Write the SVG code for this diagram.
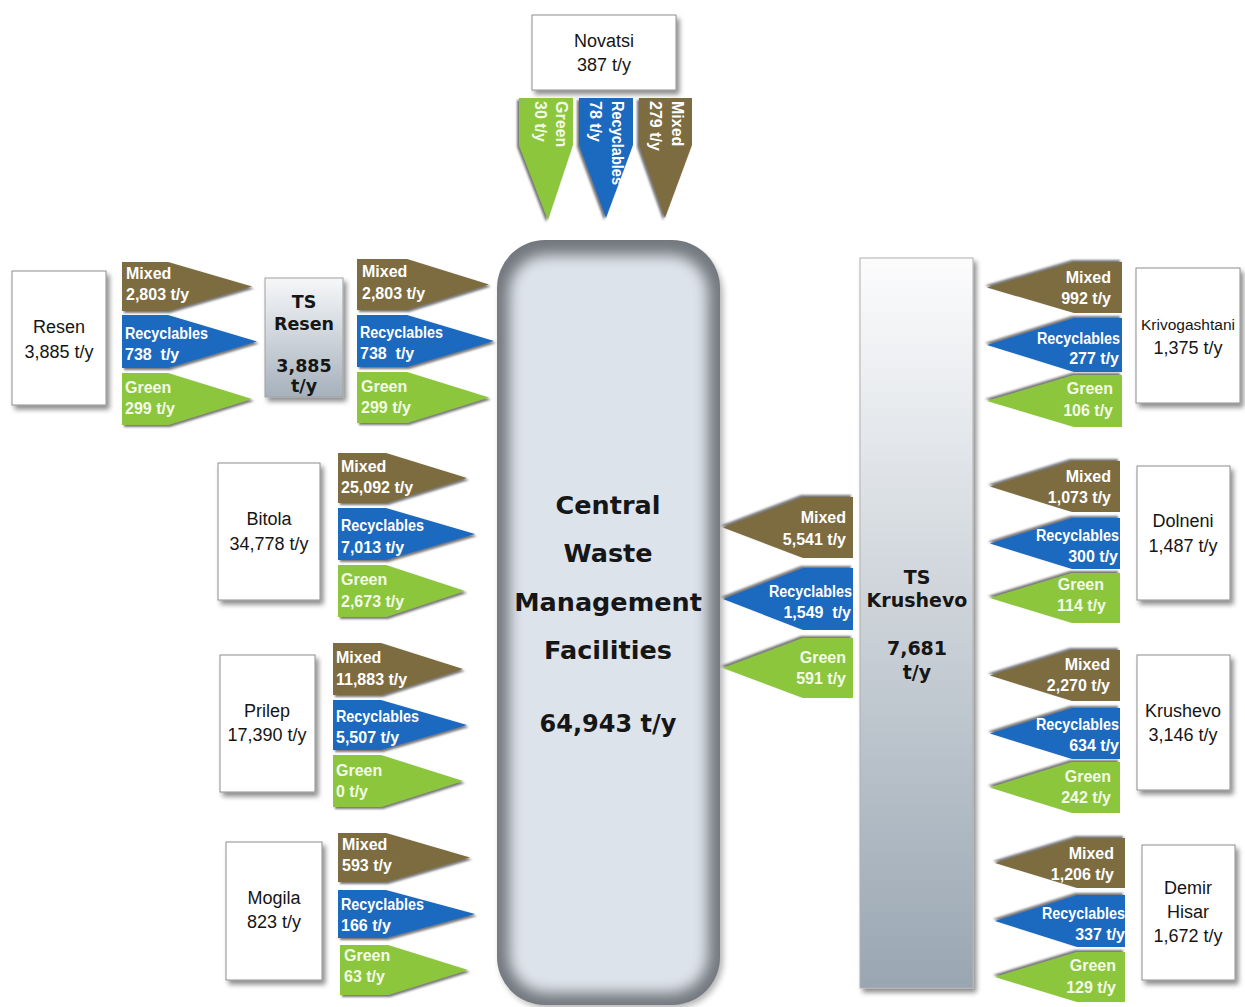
<svg xmlns="http://www.w3.org/2000/svg" width="1245" height="1007" viewBox="0 0 1245 1007">
  <defs>
    <style>
      .mx{fill:#7d6c41}
      .rc{fill:#1a69c0}
      .gr{fill:#8cc63e}
      .at{font-family:"Liberation Sans",Arial,sans-serif;font-weight:bold;font-size:16px;fill:#ffffff}
      .ag{fill:#f3fbe8}
      .end{text-anchor:end}
      .box{fill:#ffffff;stroke:#8e8e8e;stroke-width:1}
      .nt{font-family:"Liberation Sans",Arial,sans-serif;font-size:18px;fill:#151515;text-anchor:middle}
      .nt.sm{font-size:15.5px}
      .bt{font-family:"DejaVu Sans",Verdana,sans-serif;font-weight:bold;fill:#161616;text-anchor:middle}
    </style>
    <filter id="boxShadow" x="-20%" y="-20%" width="150%" height="150%">
      <feDropShadow dx="3" dy="4" stdDeviation="2.5" flood-color="#000" flood-opacity="0.45"/>
    </filter>
    <filter id="arrR" x="-10%" y="-20%" width="125%" height="150%">
      <feDropShadow dx="2" dy="2" stdDeviation="1.3" flood-color="#3a3a3a" flood-opacity="0.7"/>
    </filter>
    <filter id="arrL" x="-15%" y="-30%" width="125%" height="150%">
      <feDropShadow dx="-2" dy="-2" stdDeviation="1.3" flood-color="#3a3a3a" flood-opacity="0.7"/>
    </filter>
    <filter id="arrD" x="-30%" y="-10%" width="150%" height="125%">
      <feDropShadow dx="-2" dy="2" stdDeviation="1.3" flood-color="#3a3a3a" flood-opacity="0.7"/>
    </filter>
    <filter id="bevel" x="-20%" y="-20%" width="140%" height="140%">
      <feGaussianBlur stdDeviation="7"/>
    </filter>
    <filter id="ctrShadow" x="-20%" y="-10%" width="140%" height="120%">
      <feGaussianBlur stdDeviation="3"/>
    </filter>
    <clipPath id="ctrClip">
      <rect x="497" y="240" width="223" height="765" rx="48"/>
    </clipPath>
    <linearGradient id="tsGrad" x1="0" y1="0" x2="0" y2="1">
      <stop offset="0" stop-color="#fcfcfd"/>
      <stop offset="1" stop-color="#99a6b2"/>
    </linearGradient>
    <linearGradient id="tsResGrad" x1="0" y1="0" x2="0" y2="1">
      <stop offset="0" stop-color="#f6f7f9"/>
      <stop offset="1" stop-color="#a6b1bc"/>
    </linearGradient>
  </defs>

  <rect width="1245" height="1007" fill="#ffffff"/>

  <!-- central facility -->
  <g id="central">
    <rect x="500" y="246" width="223" height="762" rx="48" fill="#000" opacity="0.3" filter="url(#ctrShadow)"/>
    <g clip-path="url(#ctrClip)">
      <rect x="497" y="240" width="223" height="765" fill="#73787f"/>
      <rect x="509" y="255" width="199" height="738" rx="38" fill="#dde3ea" filter="url(#bevel)"/>
    </g>
    <text class="bt" x="608" y="514" font-size="25.5">Central</text>
    <text class="bt" x="608" y="562" font-size="25.5">Waste</text>
    <text class="bt" x="608" y="611" font-size="25.5">Management</text>
    <text class="bt" x="608" y="659" font-size="25.5">Facilities</text>
    <text class="bt" x="608" y="732" font-size="24">64,943 t/y</text>
  </g>

  <!-- transfer stations -->
  <g id="ts-resen">
    <rect x="265" y="278" width="78" height="119" fill="url(#tsResGrad)" stroke="#a0a0a0" filter="url(#boxShadow)"/>
    <text class="bt" x="304" y="308" font-size="17.5">TS</text>
    <text class="bt" x="304" y="330" font-size="17.5">Resen</text>
    <text class="bt" x="304" y="372" font-size="17.5">3,885</text>
    <text class="bt" x="304" y="392" font-size="17.5">t/y</text>
  </g>
  <g id="ts-krushevo">
    <rect x="860" y="258" width="113" height="730" fill="url(#tsGrad)" stroke="#b0b0b0" filter="url(#boxShadow)"/>
    <text class="bt" x="917" y="584" font-size="19">TS</text>
    <text class="bt" x="917" y="607" font-size="19">Krushevo</text>
    <text class="bt" x="917" y="655" font-size="19">7,681</text>
    <text class="bt" x="917" y="679" font-size="19">t/y</text>
  </g>

  <!-- municipalities -->
  <g id="novatsi">
    <rect class="box" x="532" y="15" width="144" height="75" filter="url(#boxShadow)"/>
    <text class="nt" x="604" y="47">Novatsi</text>
    <text class="nt" x="604" y="71">387 t/y</text>
  </g>
  <g id="resen">
    <rect class="box" x="12" y="271" width="94" height="134" filter="url(#boxShadow)"/>
    <text class="nt" x="59" y="333">Resen</text>
    <text class="nt" x="59" y="358">3,885 t/y</text>
  </g>
  <g id="bitola">
    <rect class="box" x="218" y="463" width="102" height="137" filter="url(#boxShadow)"/>
    <text class="nt" x="269" y="525">Bitola</text>
    <text class="nt" x="269" y="550">34,778 t/y</text>
  </g>
  <g id="prilep">
    <rect class="box" x="220" y="655" width="95" height="137" filter="url(#boxShadow)"/>
    <text class="nt" x="267" y="717">Prilep</text>
    <text class="nt" x="267" y="741">17,390 t/y</text>
  </g>
  <g id="mogila">
    <rect class="box" x="226" y="842" width="96" height="138" filter="url(#boxShadow)"/>
    <text class="nt" x="274" y="904">Mogila</text>
    <text class="nt" x="274" y="928">823 t/y</text>
  </g>
  <g id="krivogashtani">
    <rect class="box" x="1136" y="268" width="104" height="135" filter="url(#boxShadow)"/>
    <text class="nt sm" x="1188" y="330">Krivogashtani</text>
    <text class="nt" x="1188" y="354">1,375 t/y</text>
  </g>
  <g id="dolneni">
    <rect class="box" x="1137" y="466" width="93" height="134" filter="url(#boxShadow)"/>
    <text class="nt" x="1183" y="527">Dolneni</text>
    <text class="nt" x="1183" y="552">1,487 t/y</text>
  </g>
  <g id="krushevo">
    <rect class="box" x="1137" y="655" width="93" height="135" filter="url(#boxShadow)"/>
    <text class="nt" x="1183" y="717">Krushevo</text>
    <text class="nt" x="1183" y="741">3,146 t/y</text>
  </g>
  <g id="demir-hisar">
    <rect class="box" x="1142" y="845" width="93" height="135" filter="url(#boxShadow)"/>
    <text class="nt" x="1188" y="894">Demir</text>
    <text class="nt" x="1188" y="918">Hisar</text>
    <text class="nt" x="1188" y="942">1,672 t/y</text>
  </g>

  <!-- flow arrows -->
  <g id="connectors">
    <!-- Novatsi -> central (pointing down) -->
    <g filter="url(#arrD)">
      <polygon class="gr" points="519,98 573,98 573,145 548,220 519,145"/>
      <polygon class="rc" points="579,98 633,98 633,145 606,218 579,145"/>
      <polygon class="mx" points="639,98 692,98 692,145 665,218 639,145"/>
    </g>
    <text class="at ag" transform="translate(556,101) rotate(90)">Green</text>
    <text class="at ag" transform="translate(535,101) rotate(90)">30 t/y</text>
    <text class="at" transform="translate(612,101) rotate(90)" textLength="84" lengthAdjust="spacingAndGlyphs">Recyclables</text>
    <text class="at" transform="translate(590,101) rotate(90)">78 t/y</text>
    <text class="at" transform="translate(672,101) rotate(90)">Mixed</text>
    <text class="at" transform="translate(650,101) rotate(90)">279 t/y</text>

    <!-- Resen -> TS Resen -->
    <g filter="url(#arrR)">
      <polygon class="mx" points="122,262 168,262 252,286.5 168,311 122,311"/>
      <polygon class="rc" points="122,315 168,315 257,341.5 168,368 122,368"/>
      <polygon class="gr" points="122,373 168,373 252,399 168,425 122,425"/>
    </g>
    <text class="at" x="126" y="278.5">Mixed</text>
    <text class="at" x="126" y="299.5">2,803 t/y</text>
    <text class="at" x="125" y="338.5" textLength="83" lengthAdjust="spacingAndGlyphs">Recyclables</text>
    <text class="at" x="125" y="359.5" style="white-space:pre">738  t/y</text>
    <text class="at ag" x="125" y="392.5">Green</text>
    <text class="at ag" x="125" y="413.5">299 t/y</text>

    <!-- TS Resen -> central -->
    <g filter="url(#arrR)">
      <polygon class="mx" points="357,259 407,259 489,284.5 407,310 357,310"/>
      <polygon class="rc" points="357,315 407,315 494,341 407,367 357,367"/>
      <polygon class="gr" points="357,372 407,372 489,397.5 407,423 357,423"/>
    </g>
    <text class="at" x="362" y="276.5">Mixed</text>
    <text class="at" x="362" y="298.5">2,803 t/y</text>
    <text class="at" x="360" y="337.5" textLength="83" lengthAdjust="spacingAndGlyphs">Recyclables</text>
    <text class="at" x="360" y="358.5" style="white-space:pre">738  t/y</text>
    <text class="at ag" x="361" y="391.5">Green</text>
    <text class="at ag" x="361" y="412.5">299 t/y</text>

    <!-- Bitola -> central -->
    <g filter="url(#arrR)">
      <polygon class="mx" points="338,453 386,453 467,478 386,503 338,503"/>
      <polygon class="rc" points="338,508 386,508 475,534 386,560 338,560"/>
      <polygon class="gr" points="338,565 386,565 465,591 386,617 338,617"/>
    </g>
    <text class="at" x="341" y="471.5">Mixed</text>
    <text class="at" x="341" y="492.5">25,092 t/y</text>
    <text class="at" x="341" y="530.5" textLength="83" lengthAdjust="spacingAndGlyphs">Recyclables</text>
    <text class="at" x="341" y="552.5">7,013 t/y</text>
    <text class="at ag" x="341" y="584.5">Green</text>
    <text class="at ag" x="341" y="606.5">2,673 t/y</text>

    <!-- Prilep -> central -->
    <g filter="url(#arrR)">
      <polygon class="mx" points="333,643 381,643 463,669 381,695 333,695"/>
      <polygon class="rc" points="333,700 381,700 467,725 381,750 333,750"/>
      <polygon class="gr" points="333,755 381,755 463,781 381,807 333,807"/>
    </g>
    <text class="at" x="336" y="662.5">Mixed</text>
    <text class="at" x="336" y="684.5">11,883 t/y</text>
    <text class="at" x="336" y="721.5" textLength="83" lengthAdjust="spacingAndGlyphs">Recyclables</text>
    <text class="at" x="336" y="742.5">5,507 t/y</text>
    <text class="at ag" x="336" y="775.5">Green</text>
    <text class="at ag" x="336" y="796.5">0 t/y</text>

    <!-- Mogila -> central -->
    <g filter="url(#arrR)">
      <polygon class="mx" points="338,833 386,833 470,857.5 386,882 338,882"/>
      <polygon class="rc" points="338,890 386,890 475,914 386,938 338,938"/>
      <polygon class="gr" points="340,945 388,945 468,970 388,995 340,995"/>
    </g>
    <text class="at" x="342" y="849.5">Mixed</text>
    <text class="at" x="342" y="870.5">593 t/y</text>
    <text class="at" x="341" y="909.5" textLength="83" lengthAdjust="spacingAndGlyphs">Recyclables</text>
    <text class="at" x="341" y="930.5">166 t/y</text>
    <text class="at ag" x="344" y="960.5">Green</text>
    <text class="at ag" x="344" y="981.5">63 t/y</text>

    <!-- TS Krushevo -> central (pointing left) -->
    <g filter="url(#arrL)">
      <polygon class="mx" points="853,497 803,497 723,527.5 803,558 853,558"/>
      <polygon class="rc" points="853,568 803,568 723,599 803,630 853,630"/>
      <polygon class="gr" points="853,638 803,638 723,668 803,698 853,698"/>
    </g>
    <text class="at end" x="846" y="522.5">Mixed</text>
    <text class="at end" x="846" y="544.5">5,541 t/y</text>
    <text class="at end" x="852" y="596.5" textLength="83" lengthAdjust="spacingAndGlyphs">Recyclables</text>
    <text class="at end" x="851" y="617.5" style="white-space:pre">1,549  t/y</text>
    <text class="at ag end" x="846" y="662.5">Green</text>
    <text class="at ag end" x="846" y="683.5">591 t/y</text>

    <!-- Krivogashtani -> TS Krushevo -->
    <g filter="url(#arrL)">
      <polygon class="mx" points="1122,262 1074,262 987,287.5 1074,313 1122,313"/>
      <polygon class="rc" points="1122,318 1074,318 987,345 1074,372 1122,372"/>
      <polygon class="gr" points="1122,375 1074,375 987,401 1074,427 1122,427"/>
    </g>
    <text class="at end" x="1111" y="282.5">Mixed</text>
    <text class="at end" x="1111" y="303.5">992 t/y</text>
    <text class="at end" x="1120" y="343.5" textLength="83" lengthAdjust="spacingAndGlyphs">Recyclables</text>
    <text class="at end" x="1119" y="363.5">277 t/y</text>
    <text class="at ag end" x="1113" y="393.5">Green</text>
    <text class="at ag end" x="1113" y="415.5">106 t/y</text>

    <!-- Dolneni -> TS Krushevo -->
    <g filter="url(#arrL)">
      <polygon class="mx" points="1120,461 1072,461 990,486.5 1072,512 1120,512"/>
      <polygon class="rc" points="1120,518 1072,518 990,543.5 1072,569 1120,569"/>
      <polygon class="gr" points="1120,573 1072,573 990,598 1072,623 1120,623"/>
    </g>
    <text class="at end" x="1111" y="481.5">Mixed</text>
    <text class="at end" x="1111" y="502.5">1,073 t/y</text>
    <text class="at end" x="1119" y="540.5" textLength="83" lengthAdjust="spacingAndGlyphs">Recyclables</text>
    <text class="at end" x="1118" y="561.5">300 t/y</text>
    <text class="at ag end" x="1104" y="589.5">Green</text>
    <text class="at ag end" x="1106" y="610.5">114 t/y</text>

    <!-- Krushevo -> TS Krushevo -->
    <g filter="url(#arrL)">
      <polygon class="mx" points="1120,650 1072,650 990,675.5 1072,701 1120,701"/>
      <polygon class="rc" points="1120,708 1072,708 990,733.5 1072,759 1120,759"/>
      <polygon class="gr" points="1120,762 1072,762 990,787.5 1072,813 1120,813"/>
    </g>
    <text class="at end" x="1110" y="669.5">Mixed</text>
    <text class="at end" x="1110" y="690.5">2,270 t/y</text>
    <text class="at end" x="1119" y="729.5" textLength="83" lengthAdjust="spacingAndGlyphs">Recyclables</text>
    <text class="at end" x="1119" y="750.5">634 t/y</text>
    <text class="at ag end" x="1111" y="781.5">Green</text>
    <text class="at ag end" x="1111" y="802.5">242 t/y</text>

    <!-- Demir Hisar -> TS Krushevo -->
    <g filter="url(#arrL)">
      <polygon class="mx" points="1125,838 1077,838 995,863 1077,888 1125,888"/>
      <polygon class="rc" points="1125,895 1077,895 995,921 1077,947 1125,947"/>
      <polygon class="gr" points="1125,952 1077,952 995,977 1077,1002 1125,1002"/>
    </g>
    <text class="at end" x="1114" y="858.5">Mixed</text>
    <text class="at end" x="1114" y="879.5">1,206 t/y</text>
    <text class="at end" x="1125" y="918.5" textLength="83" lengthAdjust="spacingAndGlyphs">Recyclables</text>
    <text class="at end" x="1125" y="939.5">337 t/y</text>
    <text class="at ag end" x="1116" y="970.5">Green</text>
    <text class="at ag end" x="1116" y="992.5">129 t/y</text>
  </g>
</svg>
